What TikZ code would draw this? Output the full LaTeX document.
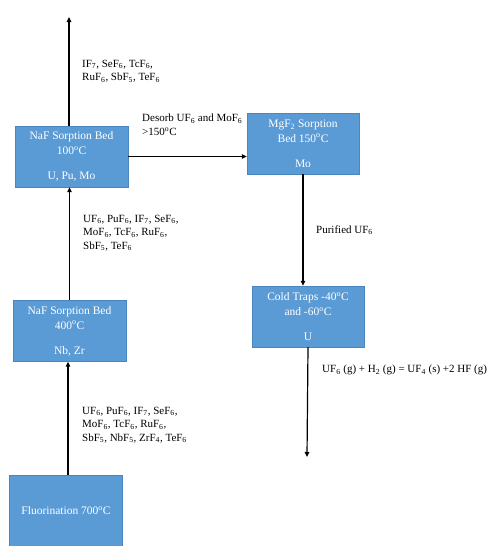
\documentclass[tikz,border=0pt]{standalone}
\usepackage{fontspec}
\setmainfont{Liberation Serif}
\usetikzlibrary{arrows.meta,positioning}
\definecolor{bedblue}{HTML}{5B9BD5}
\definecolor{bededge}{HTML}{4A86BF}
\newcommand{\sbs}[1]{\textsubscript{#1}}
\newcommand{\dg}{\textsuperscript{o}}

\begin{document}
\begin{tikzpicture}[x=1pt,y=-1pt,>={Triangle[length=5pt,width=4.5pt]},
  bed/.style={draw=bededge,fill=bedblue,text=white,minimum width=113pt,minimum height=61pt,inner sep=2pt,align=center,font=\fontsize{11.5}{15}\selectfont},
  flow/.style={->,line width=1.2pt},
  note/.style={anchor=west,align=left,inner sep=0pt,font=\fontsize{11}{13.5}\selectfont}]
\useasboundingbox (0,0) rectangle (490,546);
% process beds
\node[bed,minimum height=71pt] (fluor) at (66,510.5) {Fluorination 700\dg C};
\node[bed] (naf400) at (69.5,331) {NaF Sorption Bed\\400\dg C\\[10pt]Nb, Zr};
\node[bed] (naf100) at (71.5,156.5) {NaF Sorption Bed\\100\dg C\\[10pt]U, Pu, Mo};
\node[bed,minimum width=112pt] (mgf2) at (303,143.5) {MgF\sbs{2} Sorption\\Bed 150\dg C\\[10pt]Mo};
\node[bed,minimum width=112pt] (cold) at (308,316.5) {Cold Traps -40\dg C\\and -60\dg C\\[10pt]U};
\coordinate (vent) at (69,17);
\coordinate (product) at (307,457);
% gas flows
\draw[flow] ([xshift=2pt]fluor.north) -- ([xshift=2pt]fluor.north |- naf400.south);
\draw[flow] (naf400.north) -- (naf400.north |- naf100.south);
\draw[flow] (vent |- naf100.north) -- (vent);
\draw[flow] (naf100.east) -- (naf100.east -| mgf2.west);
\draw[flow] (mgf2.south) -- (mgf2.south |- cold.north);
\draw[flow] (cold.south) -- (product);
% stream labels
\node[note] (ventgas) at (82,71) {IF\sbs{7}, SeF\sbs{6}, TcF\sbs{6},\\RuF\sbs{6}, SbF\sbs{5}, TeF\sbs{6}};
\node[note] (desorb) at (142,124.5) {Desorb UF\sbs{6} and MoF\sbs{6}\\>150\dg C};
\node[note] (midgas) at (83,233) {UF\sbs{6}, PuF\sbs{6}, IF\sbs{7}, SeF\sbs{6},\\MoF\sbs{6}, TcF\sbs{6}, RuF\sbs{6},\\SbF\sbs{5}, TeF\sbs{6}};
\node[note] (feedgas) at (82,425) {UF\sbs{6}, PuF\sbs{6}, IF\sbs{7}, SeF\sbs{6},\\MoF\sbs{6}, TcF\sbs{6}, RuF\sbs{6},\\SbF\sbs{5}, NbF\sbs{5}, ZrF\sbs{4}, TeF\sbs{6}};
\node[note] (purified) at (316,230) {Purified UF\sbs{6}};
\node[note] (reduce) at (322,370) {UF\sbs{6} (g) + H\sbs{2} (g) = UF\sbs{4} (s) +2 HF (g)};
\end{tikzpicture}
\end{document}
